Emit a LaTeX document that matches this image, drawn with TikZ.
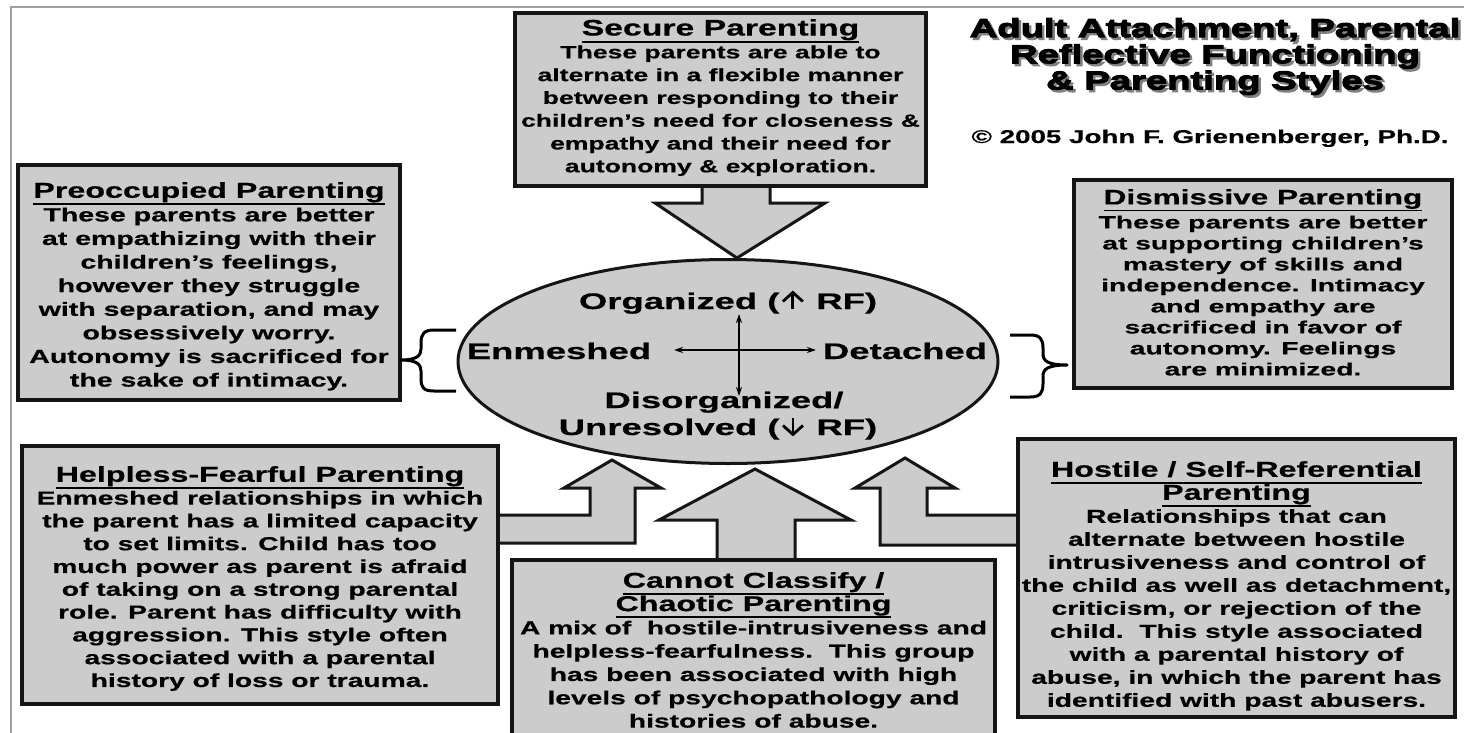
\documentclass[tikz,border=0pt]{standalone}
\usepackage{fontspec}
\setmainfont{Liberation Sans}
\newfontfamily\fB[FakeStretch=1.5,FakeBold=0.6]{Liberation Sans Bold}
\newfontfamily\fD[FakeStretch=1.6,FakeBold=0.6]{Liberation Sans Bold}
\newfontfamily\fE[FakeStretch=1.62,FakeBold=0.6]{Liberation Sans Bold}
\newfontfamily\fT[FakeStretch=1.47,FakeBold=4]{Liberation Sans Bold}
\usetikzlibrary{arrows.meta,shapes.geometric}
\definecolor{boxgray}{HTML}{CCCCCC}
\definecolor{edge}{HTML}{151515}
\definecolor{framegray}{HTML}{A0A0A0}
\definecolor{shadowgray}{HTML}{808080}
\newsavebox\ulbox
\newcommand\ulhead[1]{\sbox\ulbox{#1}\rlap{\rule[-0.62ex]{\wd\ulbox}{0.16ex}}\usebox\ulbox}
\newcommand\hd[2][21.5]{{\fB\fontsize{#1}{23}\selectfont\ulhead{#2}}}
\newcommand\uparr{\kern2pt\tikz[x=1pt,y=1pt,baseline=0pt]{\draw[line width=2.8pt,line cap=butt] (0,0) -- (0,16);\draw[line width=2.8pt,line join=miter] (-10,7.5) -- (0,16.5) -- (10,7.5);}\kern2pt}
\newcommand\downarr{\kern2pt\tikz[x=1pt,y=1pt,baseline=0pt]{\draw[line width=2.8pt,line cap=butt] (0,17) -- (0,1);\draw[line width=2.8pt,line join=miter] (-10,9.5) -- (0,0.5) -- (10,9.5);}\kern2pt}
\begin{document}
\begin{tikzpicture}[x=1pt,y=-1pt,
  box/.style={draw=edge,line width=3.5pt,fill=boxgray,inner sep=0pt,outer sep=0pt},
  barrow/.style={draw=edge,line width=3pt,fill=boxgray,line join=miter},
  txt/.style={align=center,inner sep=0pt,anchor=north},
  elfont/.style={inner sep=0pt,anchor=base,font=\fE\fontsize{22.5}{26}\selectfont},
  titlefont/.style={align=center,anchor=north,inner sep=0pt,font=\fT\fontsize{26}{26.2}\selectfont},
  bracepen/.style={draw=black,line width=3pt,line cap=butt,line join=round},
  cross/.style={draw=black,line width=1.6pt,{Stealth[length=9pt,width=6pt]}-{Stealth[length=9pt,width=6pt]}}
]
\useasboundingbox (0,0) rectangle (1464,733);
\fill[white] (0,0) rectangle (1464,733);
% frame
\draw[framegray,line width=2pt] (11,740) -- (11,7) -- (1470,7);

% title
\node[titlefont,text=shadowgray] (titleShadow) at (1217.5,20.5) {Adult Attachment, Parental\\Reflective Functioning\\\& Parenting Styles};
\node[titlefont] (title) at (1215,18) {Adult Attachment, Parental\\Reflective Functioning\\\& Parenting Styles};
\node[anchor=base,inner sep=0pt,font=\fB\fontsize{18.5}{20}\selectfont] (copy) at (1210,143) {© 2005 John F. Grienenberger, Ph.D.};

% secure
\draw[barrow] (702,175) -- (702,203) -- (655,203) -- (737,258) -- (825,203) -- (770,203) -- (770,175) -- cycle;
\node[box,minimum width=411pt,minimum height=173pt] (secure) at (720.5,99.5) {};
\node[txt,font=\fB\fontsize{17.7}{22.8}\selectfont] (secureText) at (720.5,19) {\hd[22.5]{Secure Parenting}\\
These parents are able to\\
alternate in a flexible manner\\
between responding to their\\
children’s need for closeness \&\\
empathy and their need for\\
autonomy \& exploration.};

% lower arrows
\draw[barrow] (480,515) -- (590,515) -- (590,488) -- (564,488) -- (612,460) -- (661,488) -- (635,488) -- (635,543) -- (480,543) -- cycle;
\draw[barrow] (717,575) -- (717,520) -- (659,520) -- (755,469) -- (851,520) -- (795,520) -- (795,575) -- cycle;
\draw[barrow] (1030,515) -- (927,515) -- (927,488) -- (955,488) -- (905,458) -- (855,488) -- (880,488) -- (880,545) -- (1030,545) -- cycle;

% preoccupied
\node[box,minimum width=382pt,minimum height=235pt] (pre) at (209,282.5) {};
\node[txt,font=\fB\fontsize{19}{23.6}\selectfont] (preText) at (209,182) {\hd{Preoccupied Parenting}\\
These parents are better\\
at empathizing with their\\
children’s feelings,\\
however they struggle\\
with separation, and may\\
obsessively worry.\\
Autonomy is sacrificed for\\
the sake of intimacy.};

% dismissive
\node[box,minimum width=378pt,minimum height=208pt] (dis) at (1263,284) {};
\node[txt,font=\fD\fontsize{17.7}{21}\selectfont] (disText) at (1263,189) {\hd[21]{Dismissive Parenting}\\[3pt]
These parents are better\\
at supporting children’s\\
mastery of skills and\\
independence. Intimacy\\
and empathy are\\
sacrificed in favor of\\
autonomy. Feelings\\
are minimized.};

% helpless
\node[box,minimum width=476pt,minimum height=258pt] (help) at (260,575) {};
\node[txt,font=\fB\fontsize{18.8}{22.8}\selectfont] (helpText) at (260,466) {\hd{Helpless-Fearful Parenting}\\
Enmeshed relationships in which\\
the parent has a limited capacity\\
to set limits. Child has too\\
much power as parent is afraid\\
of taking on a strong parental\\
role. Parent has difficulty with\\
aggression. This style often\\
associated with a parental\\
history of loss or trauma.};

% cannot classify
\node[box,minimum width=483pt,minimum height=200pt] (cannot) at (753.5,660) {};
\node[txt,font=\fB\fontsize{18.8}{23.3}\selectfont] (cannotText) at (753.5,572) {\hd{Cannot Classify /}\\
\hd{Chaotic Parenting}\\
A mix of\ \ hostile-intrusiveness and\\
helpless-fearfulness.\ \ This group\\
has been associated with high\\
levels of psychopathology and\\
histories of abuse.};

% hostile
\node[box,minimum width=437pt,minimum height=278pt] (host) at (1236.5,578) {};
\node[txt,font=\fB\fontsize{18.8}{23}\selectfont] (hostText) at (1236.5,461) {\hd{Hostile / Self-Referential}\\
\hd{Parenting}\\
Relationships that can\\
alternate between hostile\\
intrusiveness and control of\\
the child as well as detachment,\\
criticism, or rejection of the\\
child.\ \ This style associated\\
with a parental history of\\
abuse, in which the parent has\\
identified with past abusers.};

% ellipse
\node[draw=edge,line width=3pt,fill=boxgray,ellipse,minimum width=540pt,minimum height=204pt,inner sep=0pt] (core) at (728,361.5) {};
\node[elfont] (org) at (728,309) {Organized (\uparr{} RF)};
\node[elfont] (enm) at (559,359) {Enmeshed};
\node[elfont] (det) at (905,359) {Detached};
\node[elfont] (dis1) at (724,408) {Disorganized/};
\node[elfont] (unr) at (718,435) {Unresolved (\downarr{} RF)};
\coordinate (vt) at (739,314);
\coordinate (vb) at (739,396);
\coordinate (hl) at (674,350);
\coordinate (hr) at (816,350);
\draw[cross] (vt) -- (vb);
\draw[cross] (hl) -- (hr);

% braces
\draw[bracepen] (456,330) -- (434,330) .. controls (424,330) and (421,334) .. (421,343) -- (421,349)
  .. controls (421,356) and (416,360) .. (401,360)
  .. controls (416,360) and (421,364) .. (421,371) -- (421,379)
  .. controls (421,388) and (424,391) .. (434,391) -- (456,391);
\draw[bracepen] (1010,335) -- (1030,335) .. controls (1040,335) and (1043,339) .. (1043,348) -- (1043,354)
  .. controls (1043,361) and (1048,365) .. (1067,365)
  .. controls (1048,365) and (1043,369) .. (1043,376) -- (1043,384)
  .. controls (1043,393) and (1040,397) .. (1030,397) -- (1010,397);
\end{tikzpicture}
\end{document}
